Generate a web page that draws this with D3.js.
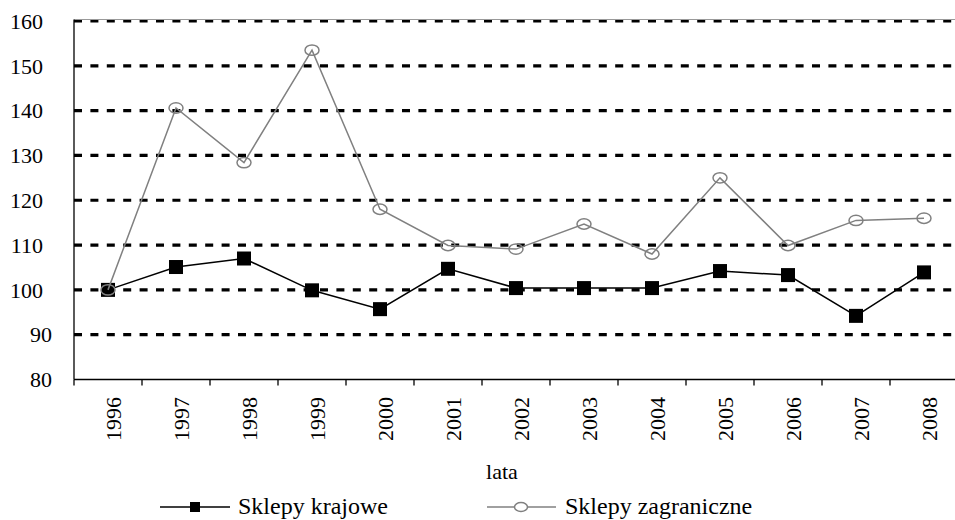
<!DOCTYPE html>
<html>
<head>
<meta charset="utf-8">
<script src="https://cdn.jsdelivr.net/npm/d3@7"></script>
<style>
  body { margin: 0; background: #fff; }
  text { font-family: "Liberation Serif", "Times New Roman", serif; fill: #000; }
</style>
</head>
<body>
<div id="chart"></div>
<script>
// data
const years = ["1996", "1997", "1998", "1999", "2000", "2001", "2002", "2003", "2004", "2005", "2006", "2007", "2008"];
const krajowe = [100, 105.1, 107, 99.9, 95.7, 104.7, 100.4, 100.4, 100.4, 104.2, 103.3, 94.2, 103.9];
const zagraniczne = [100, 140.6, 128.4, 153.5, 118, 109.9, 109.1, 114.7, 108, 125, 109.9, 115.5, 116];
const yTicks = [80, 90, 100, 110, 120, 130, 140, 150, 160];

const width = 955, height = 520;
const plotLeft = 74, plotRight = 958, plotTop = 21, plotBottom = 379.5;

const svg = d3.select("#chart").append("svg")
    .attr("width", width)
    .attr("height", height);

const x = d3.scaleBand().domain(years).range([plotLeft, plotRight]);
const y = d3.scaleLinear().domain([80, 160]).range([plotBottom, plotTop]);

// gridlines
svg.append("g").selectAll("line")
    .data(yTicks.filter(t => t > 80))
    .join("line")
    .attr("x1", plotLeft).attr("x2", plotRight)
    .attr("y1", d => y(d)).attr("y2", d => y(d))
    .attr("stroke", "#000")
    .attr("stroke-width", 3.2)
    .attr("stroke-dasharray", "8,8.4");

// top border (gray)
svg.append("line")
    .attr("x1", plotLeft).attr("x2", plotRight)
    .attr("y1", y(160) - 1.5).attr("y2", y(160) - 1.5)
    .attr("stroke", "#999").attr("stroke-width", 1);

// y axis
svg.append("line")
    .attr("x1", plotLeft).attr("x2", plotLeft)
    .attr("y1", y(160) - 1.5).attr("y2", plotBottom)
    .attr("stroke", "#000").attr("stroke-width", 1.3);

svg.append("g").selectAll("text")
    .data(yTicks)
    .join("text")
    .attr("x", d => d >= 100 ? 43 : 52)
    .attr("y", d => y(d))
    .attr("dy", "0.35em")
    .attr("text-anchor", "end")
    .attr("font-size", 22)
    .text(d => d);

// x axis
svg.append("line")
    .attr("x1", plotLeft).attr("x2", plotRight)
    .attr("y1", plotBottom).attr("y2", plotBottom)
    .attr("stroke", "#000").attr("stroke-width", 1.3);

svg.append("g").selectAll("line")
    .data(years)
    .join("line")
    .attr("x1", d => x(d)).attr("x2", d => x(d))
    .attr("y1", plotBottom).attr("y2", plotBottom + 6)
    .attr("stroke", "#000").attr("stroke-width", 1.3);

svg.append("g").selectAll("text")
    .data(years)
    .join("text")
    .attr("transform", d => `translate(${x(d) + x.bandwidth() / 2 + 5},397) rotate(-90)`)
    .attr("text-anchor", "end")
    .attr("dy", "0.35em")
    .attr("font-size", 22)
    .text(d => d);

svg.append("text")
    .attr("x", 502).attr("y", 479)
    .attr("text-anchor", "middle")
    .attr("font-size", 22)
    .text("lata");

const cx = (d, i) => x(years[i]) + x.bandwidth() / 2;

// Sklepy krajowe
const line = d3.line().x(cx).y(d => y(d));
svg.append("path")
    .datum(krajowe)
    .attr("d", line)
    .attr("fill", "none")
    .attr("stroke", "#000")
    .attr("stroke-width", 1.5);

svg.append("g").selectAll("rect")
    .data(krajowe)
    .join("rect")
    .attr("x", (d, i) => cx(d, i) - 7)
    .attr("y", d => y(d) - 7)
    .attr("width", 14).attr("height", 14)
    .attr("fill", "#000");

// Sklepy zagraniczne
svg.append("path")
    .datum(zagraniczne)
    .attr("d", line)
    .attr("fill", "none")
    .attr("stroke", "#808080")
    .attr("stroke-width", 1.5);

svg.append("g").selectAll("ellipse")
    .data(zagraniczne)
    .join("ellipse")
    .attr("cx", cx)
    .attr("cy", d => y(d))
    .attr("rx", 7).attr("ry", 5.2)
    .attr("fill", "none")
    .attr("stroke", "#808080")
    .attr("stroke-width", 1.5);

// legend
const lg = svg.append("g");
lg.append("line").attr("x1", 160).attr("x2", 230).attr("y1", 507).attr("y2", 507)
    .attr("stroke", "#000").attr("stroke-width", 1.5);
lg.append("rect").attr("x", 190).attr("y", 502).attr("width", 10).attr("height", 10).attr("fill", "#000");
lg.append("text").attr("x", 238).attr("y", 514).attr("font-size", 24).text("Sklepy krajowe");

lg.append("line").attr("x1", 487).attr("x2", 556).attr("y1", 507).attr("y2", 507)
    .attr("stroke", "#808080").attr("stroke-width", 1.5);
lg.append("ellipse").attr("cx", 521).attr("cy", 507).attr("rx", 6.5).attr("ry", 4.5)
    .attr("fill", "#fff").attr("stroke", "#808080").attr("stroke-width", 1.5);
lg.append("text").attr("x", 565).attr("y", 514).attr("font-size", 24).text("Sklepy zagraniczne");
</script>
</body>
</html>
